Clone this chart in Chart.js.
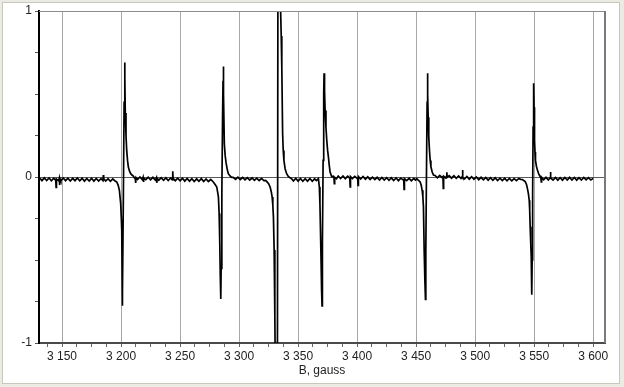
<!DOCTYPE html>
<html>
<head>
<meta charset="utf-8">
<title>EPR spectrum</title>
<script src="https://cdn.jsdelivr.net/npm/chart.js@4.4.1/dist/chart.umd.min.js"></script>
<style>
  html, body { margin: 0; padding: 0; }
  body { width: 624px; height: 387px; background: #ebebe3; position: relative; overflow: hidden; }
  .panel { position: absolute; left: 2px; top: 2px; width: 616px; height: 380px; background: #fff; border: 1px solid #c8c8be; }
  #wrap { position: absolute; left: 0; top: 0; width: 624px; height: 387px; }
</style>
</head>
<body>
<div class="panel"></div>
<div id="wrap"><canvas id="eprChart" width="624" height="387"></canvas></div>
<script>
// field (gauss) / signal pairs, segment by segment
const baseline0 = [
    [3131,-0.006],[3133,-0.022],[3135,-0.005],[3137,-0.021],[3139,-0.006],[3141,-0.023],[3143,-0.007],
    [3144.7,-0.020],[3145,-0.062],[3145.3,-0.012],[3147,-0.022],[3147.7,-0.006],[3148,-0.048],[3148.3,-0.010],
    [3149,-0.023],[3151,-0.006],[3153,-0.022],[3155,-0.007],[3157,-0.024],[3159,-0.008],[3161,-0.022],
    [3163,-0.006],[3165,-0.023],[3167,-0.008],[3169,-0.025],[3171,-0.009],[3173,-0.024],[3175,-0.008],
    [3177,-0.025],[3179,-0.009],[3181,-0.024],[3183,-0.010],[3184.7,-0.022],[3185,0.012],[3185.3,-0.010],
    [3187,-0.024],[3189,-0.010],[3191,-0.026],[3193,-0.012],[3195,-0.024]
];
const line1 = [
    [3196.4,-0.03],[3197.6,-0.05],[3198.6,-0.08],[3199.7,-0.16],[3200.3,-0.26],[3200.6,-0.32],[3200.9,-0.55],
    [3201.1,-0.775],[3201.3,-0.70],[3202.0,-0.10],[3202.6,0.45],[3203.1,0.69],[3203.3,0.60],[3203.6,0.385],
    [3204.2,0.25],[3204.8,0.16],[3205.5,0.10],[3206.2,0.06],[3207.2,0.035],[3208.2,0.02],[3209.3,0.012],[3210.4,0.006]
];
const baseline1 = [
    [3211,-0.002],[3212.1,-0.012],[3212.4,-0.036],[3212.7,-0.004],[3214,-0.015],[3216,0.000],[3218,-0.016],
    [3218.7,-0.002],[3219,-0.030],[3219.3,-0.008],[3221,-0.016],[3223,-0.001],[3225,-0.017],[3227,-0.002],
    [3229,-0.018],[3230,-0.004],[3230.3,-0.035],[3230.6,-0.008],[3232,-0.019],[3234,-0.004],[3236,-0.020],
    [3238,-0.005],[3240,-0.021],[3242,-0.006],[3243.5,-0.018],[3243.8,0.035],[3244.1,-0.008],[3246,-0.022],
    [3248,-0.007],[3250,-0.023],[3252,-0.008],[3254,-0.025],[3256,-0.009],[3258,-0.025],[3260,-0.010],
    [3262,-0.027],[3264,-0.011],[3266,-0.026],[3268,-0.010],[3270,-0.027],[3272,-0.012],[3274,-0.027],[3276,-0.015]
];
const line2 = [
    [3278.2,-0.03],[3279.7,-0.045],[3281.1,-0.06],[3282.5,-0.12],[3283.1,-0.22],[3283.6,-0.38],[3284.1,-0.60],
    [3284.5,-0.735],[3284.8,-0.55],[3285.4,-0.10],[3286.0,0.35],[3286.4,0.58],[3286.7,0.665],[3286.9,0.50],
    [3287.5,0.20],[3288.2,0.13],[3289,0.085],[3290,0.045],[3290.9,0.02],[3292.3,0.006],[3293.8,-0.002]
];
const baseline2 = [
    [3295,-0.002],[3297,-0.014],[3299,-0.001],[3301,-0.015],[3303,-0.003],[3305,-0.017],[3307,-0.004],
    [3309,-0.018],[3311,-0.006],[3313,-0.020],[3315,-0.007],[3317,-0.021],[3319,-0.009],[3321,-0.022],[3322.5,-0.020]
];
// the strong line runs off scale on both sides
const line3 = [
    [3323.5,-0.028],[3325,-0.04],[3326.3,-0.06],[3327.3,-0.09],[3328,-0.12],[3328.6,-0.17],[3329.1,-0.24],
    [3329.7,-0.44],[3330.3,-0.84],[3330.6,-1.1],[3331.2,-1.6],[3332.4,-1.6],[3333.0,1.7],[3334.2,1.7],
    [3335.2,1.0],[3335.7,0.85],[3336.2,0.66],[3336.9,0.26],[3337.4,0.16],[3338,0.10],[3339,0.05],
    [3340.3,0.02],[3341.7,0.004],[3343.2,-0.005]
];
const baseline3 = [
    [3344.5,-0.010],[3346,-0.024],[3348,-0.008],[3350,-0.025],[3352,-0.009],[3354,-0.026],[3356,-0.010],
    [3358,-0.025],[3360,-0.009],[3362,-0.026],[3364,-0.011],[3365.5,-0.022]
];
const line4 = [
    [3367.2,-0.01],[3368,-0.06],[3368.5,-0.16],[3368.9,-0.30],[3369.5,-0.52],[3369.9,-0.68],[3370.3,-0.777],
    [3370.6,-0.40],[3371.2,0.10],[3371.7,0.50],[3372,0.625],[3372.4,0.52],[3372.9,0.40],[3373.6,0.30],
    [3374.3,0.22],[3375,0.16],[3375.7,0.12],[3376.4,0.07],[3377.1,0.03],[3378.5,0.002]
];
const baseline4 = [
    [3380,0.004],[3380.4,-0.006],[3380.7,-0.040],[3381,-0.002],[3382.5,-0.010],[3384,0.006],[3386,-0.009],
    [3388,0.006],[3390,-0.010],[3392,0.005],[3393.8,-0.008],[3394.1,-0.060],[3394.4,0.002],[3396,-0.010],
    [3398,0.004],[3400.5,-0.012],[3400.8,-0.050],[3401.1,0.003],[3403,-0.012],[3405,0.003],[3407,-0.013],
    [3409,0.001],[3411,-0.015],[3413,-0.001],[3415,-0.016],[3417,-0.002],[3419,-0.018],[3421,-0.003],
    [3423,-0.018],[3425,-0.004],[3427,-0.020],[3429,-0.005],[3431,-0.021],[3433,-0.006],[3435,-0.022],
    [3437,-0.007],[3439.5,-0.020],[3439.8,-0.075],[3440.1,-0.010],[3442,-0.022],[3444,-0.008],[3446,-0.023],
    [3448,-0.009],[3449.5,-0.018]
];
const line5 = [
    [3450.6,-0.01],[3452,-0.02],[3453.4,-0.03],[3454.3,-0.05],[3455.1,-0.08],[3455.7,-0.12],[3456.2,-0.18],
    [3456.8,-0.44],[3457.4,-0.62],[3457.9,-0.737],[3458.2,-0.45],[3458.8,0.05],[3459.3,0.45],[3459.6,0.625],
    [3459.9,0.50],[3460.2,0.36],[3460.7,0.24],[3461.3,0.16],[3461.9,0.10],[3462.5,0.062],[3463.6,0.03],[3464.7,0.012]
];
const baseline5 = [
    [3466,0.009],[3468,-0.005],[3470,0.010],[3472,-0.004],[3472.7,0.006],[3473,-0.068],[3473.3,0.004],
    [3475,-0.006],[3475.7,0.004],[3476,0.028],[3476.3,-0.002],[3478,0.008],[3480,-0.007],[3482,0.007],
    [3484,-0.008],[3486,0.006],[3488,-0.009],[3489,0.002],[3489.3,0.042],[3489.6,-0.004],[3491,-0.012],
    [3493,0.003],[3495,-0.013],[3497,0.002],[3499,-0.014],[3501,0.000],[3503,-0.016],[3505,-0.002],
    [3507,-0.017],[3509,-0.003],[3511,-0.019],[3513,-0.004],[3515,-0.020],[3517,-0.005],[3519,-0.021],
    [3521,-0.007],[3523,-0.022],[3525,-0.008],[3527,-0.023],[3529,-0.009],[3531,-0.023],[3533,-0.010],
    [3535,-0.022],[3537,-0.009],[3538.5,-0.014]
];
const line6 = [
    [3540,-0.015],[3542.4,-0.028],[3543.5,-0.045],[3544.3,-0.07],[3545.1,-0.10],[3545.8,-0.14],[3546.2,-0.20],
    [3546.6,-0.30],[3547.1,-0.40],[3547.5,-0.48],[3547.8,-0.52],[3548.1,-0.71],[3548.3,-0.50],[3548.7,-0.10],
    [3549.1,0.30],[3549.4,0.45],[3549.7,0.565],[3549.9,0.42],[3550.3,0.22],[3550.7,0.15],[3551.1,0.10],
    [3551.9,0.065],[3552.8,0.04],[3554,0.015],[3555.1,0.002]
];
const baseline6 = [
    [3555.7,-0.006],[3556,-0.030],[3556.3,-0.002],[3558,-0.017],[3560,-0.002],[3562,-0.018],[3563.5,-0.004],
    [3563.8,0.030],[3564.1,-0.006],[3566,-0.018],[3568,-0.003],[3570,-0.019],[3572,-0.004],[3574,-0.019],
    [3576,-0.003],[3578,-0.018],[3580,-0.002],[3582,-0.018],[3584,-0.003],[3586,-0.019],[3588,-0.004],
    [3590,-0.018],[3592,-0.003],[3594,-0.017],[3596,-0.004],[3598,-0.018],[3600,-0.008]
];

// axis ticks
const xMajorTicks = [3150, 3200, 3250, 3300, 3350, 3400, 3450, 3500, 3550, 3600];
const xMinorStep = 12.5;
const yLabelTicks = [-1, 0, 1];
const yMinorStep = 0.25;

const segments = [baseline0, line1, baseline1, line2, baseline2, line3, baseline3,
                  line4, baseline4, line5, baseline5, line6, baseline6];
const points = [];
segments.forEach(seg => seg.forEach(p => points.push({x: p[0], y: p[1]})));

function fmtGauss(v) {
    return String(v).replace(/\B(?=(\d{3})+(?!\d))/g, ' ');
}

// gray top / right frame of the plot
const framePlugin = {
    id: 'frame',
    afterDraw(chart) {
        const ctx = chart.ctx, a = chart.chartArea;
        ctx.save();
        ctx.strokeStyle = '#8c8c8c';
        ctx.lineWidth = 1;
        ctx.beginPath();
        ctx.moveTo(a.left, a.top + 0.5);
        ctx.lineTo(a.right, a.top + 0.5);
        ctx.stroke();
        ctx.strokeStyle = '#7a7a7a';
        ctx.lineWidth = 2;
        ctx.beginPath();
        ctx.moveTo(a.right, a.top);
        ctx.lineTo(a.right, a.bottom);
        ctx.stroke();
        ctx.restore();
    }
};

const labelFont = {family: "'Liberation Sans', Arial, sans-serif", size: 12};

new Chart(document.getElementById('eprChart').getContext('2d'), {
    type: 'line',
    data: {
        datasets: [{
            data: points,
            borderColor: '#000',
            borderWidth: 1.7,
            pointRadius: 0,
            tension: 0,
            fill: false
        }]
    },
    options: {
        responsive: false,
        animation: false,
        layout: {padding: {left: 0, top: 11, right: 19, bottom: 0}},
        plugins: {legend: {display: false}, tooltip: {enabled: false}},
        scales: {
            x: {
                type: 'linear',
                min: 3130.5,
                max: 3610,
                afterBuildTicks: function (scale) {
                    const ticks = [];
                    for (let v = xMajorTicks[0] - xMinorStep; v <= scale.max; v += xMinorStep) {
                        if (v >= scale.min) ticks.push({value: v});
                    }
                    scale.ticks = ticks;
                },
                afterFit: function (scale) { scale.height = 44; },
                ticks: {
                    autoSkip: false,
                    maxRotation: 0,
                    padding: 2,
                    color: '#222',
                    font: labelFont,
                    callback: v => xMajorTicks.includes(v) ? fmtGauss(v) : ''
                },
                grid: {
                    color: c => (c.tick && xMajorTicks.includes(c.tick.value)) ? '#a8a8a8' : 'rgba(0,0,0,0)',
                    tickColor: '#666',
                    tickLength: 4,
                    lineWidth: 1
                },
                border: {color: '#4a4a4a', width: 2},
                title: {
                    display: true,
                    text: 'B, gauss',
                    color: '#222',
                    font: labelFont,
                    padding: {top: 0, bottom: 9}
                }
            },
            y: {
                min: -1,
                max: 1,
                afterFit: function (scale) { scale.width = 39; },
                ticks: {
                    stepSize: yMinorStep,
                    autoSkip: false,
                    padding: 3,
                    color: '#222',
                    font: labelFont,
                    callback: v => yLabelTicks.includes(v) ? String(v) : ''
                },
                grid: {
                    color: c => (c.tick && c.tick.value === 0) ? '#5a5a5a' : 'rgba(0,0,0,0)',
                    tickColor: '#555',
                    tickLength: 4,
                    lineWidth: 1
                },
                border: {color: '#000', width: 2}
            }
        }
    },
    plugins: [framePlugin]
});
</script>
</body>
</html>
